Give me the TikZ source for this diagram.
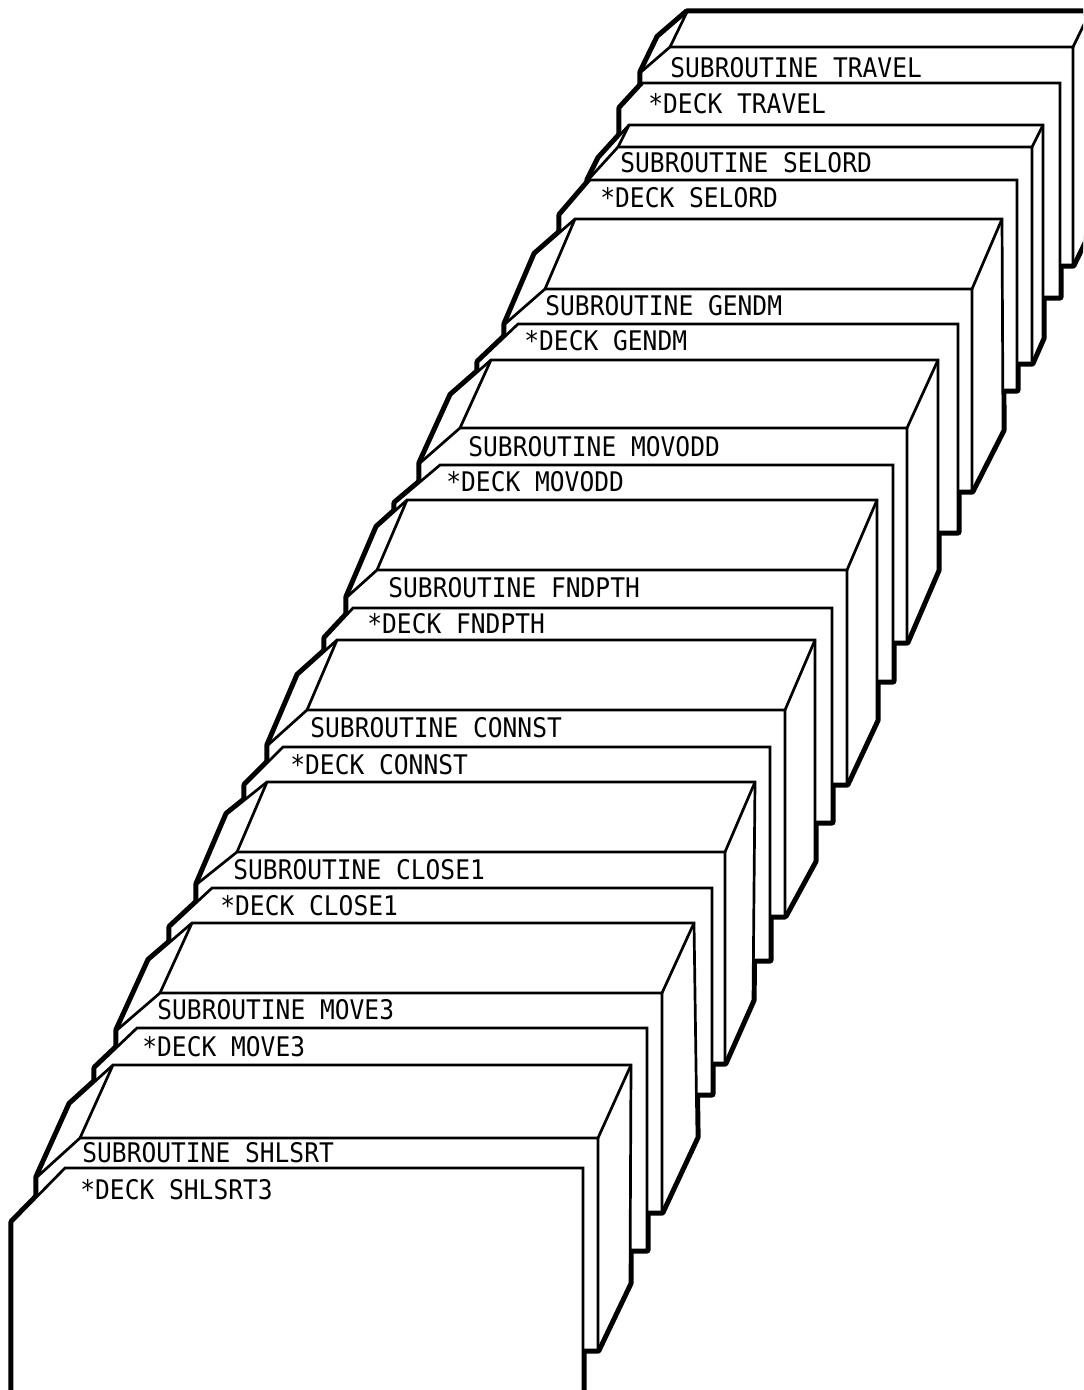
\documentclass[tikz,border=0pt]{standalone}
\usepackage{fontspec}
\newfontfamily\decfont[FakeStretch=0.91]{DejaVu Sans Mono}
\pgfkeys{/grp/.cd,
  T/.store in=\gT, Lt/.store in=\gLt, xl/.store in=\gxl, cb/.store in=\gcb,
  R/.store in=\gR, B/.store in=\gB, dx/.store in=\gdx, du/.store in=\gdu,
  dbx/.store in=\gdbx, dbu/.store in=\gdbu,
  Tc/.store in=\gTc, Lc/.store in=\gLc, xcl/.store in=\gxcl, ccb/.store in=\gccb,
  Rc/.store in=\gRc, Bc/.store in=\gBc}
\newcommand\setgrp[1]{\pgfkeys{/grp/.cd,#1}}
% block (deck) silhouette and card silhouette
\newcommand\blk[1]{\path[#1] (\gxl,\gB) -- (\gxl,\gcb) -- (\gxl+\gdx,\gcb-\gdu)
  -- (\gLt+\gdx,\gT-\gdu) -- (\gR+\gdx,\gT-\gdu) -- (\gR+\gdbx,\gB-\gdbu) -- (\gR,\gB) -- cycle;}
\newcommand\blkinner{\draw[inner] (\gxl,\gcb) -- (\gLt,\gT) -- (\gR,\gT) -- (\gR,\gB);
  \draw[inner] (\gLt,\gT) -- (\gLt+\gdx,\gT-\gdu);
  \draw[inner] (\gR,\gT) -- (\gR+\gdx,\gT-\gdu);}
\newcommand\crd[1]{\path[#1] (\gxcl,\gBc) -- (\gxcl,\gccb) -- (\gLc,\gTc) -- (\gRc,\gTc) -- (\gRc,\gBc) -- cycle;}
% groups, front (A) to back (I)
\newcommand\grpA{\setgrp{T=1138,Lt=80,xl=37,cb=1177,R=598,B=1350,dx=33,du=73,dbx=32,dbu=67,
  Tc=1168,Lc=65,xcl=12,ccb=1222,Rc=583,Bc=1398}}
\newcommand\grpB{\setgrp{T=993,Lt=160,xl=117,cb=1030,R=662,B=1212,dx=32,du=70,dbx=35,dbu=75,
  Tc=1028,Lc=137,xcl=95,ccb=1068,Rc=647,Bc=1250}}
\newcommand\grpC{\setgrp{T=852,Lt=237,xl=197,cb=884,R=725,B=1063,dx=30,du=70,dbx=28,dbu=63,
  Tc=888,Lc=212,xcl=170,ccb=927,Rc=712,Bc=1094}}
\newcommand\grpD{\setgrp{T=710,Lt=307,xl=268,cb=745,R=785,B=916,dx=30,du=70,dbx=30,dbu=55,
  Tc=747,Lc=283,xcl=245,ccb=785,Rc=770,Bc=960}}
\newcommand\grpE{\setgrp{T=570,Lt=377,xl=347,cb=597,R=847,B=784,dx=30,du=70,dbx=30,dbu=64,
  Tc=608,Lc=353,xcl=325,ccb=638,Rc=832,Bc=822}}
\newcommand\grpF{\setgrp{T=428,Lt=460,xl=420,cb=463,R=907,B=642,dx=31,du=68,dbx=31,dbu=72,
  Tc=465,Lc=440,xcl=395,ccb=503,Rc=893,Bc=681}}
\newcommand\grpG{\setgrp{T=289,Lt=545,xl=505,cb=324,R=972,B=491,dx=30,du=70,dbx=31,dbu=61,
  Tc=324,Lc=518,xcl=478,ccb=362,Rc=958,Bc=532}}
\newcommand\grpH{\setgrp{T=147,Lt=618,xl=588,cb=180,R=1032,B=363,dx=11,du=22,dbx=11,dbu=25,
  Tc=180,Lc=590,xcl=560,ccb=215,Rc=1017,Bc=390}}
\newcommand\grpI{\setgrp{T=47,Lt=670,xl=641,cb=72,R=1073,B=265,dx=17,du=35,dbx=17,dbu=35,
  Tc=83,Lc=643,xcl=620,ccb=108,Rc=1060,Bc=297}}
\begin{document}
\begin{tikzpicture}[x=0.5pt,y=-0.5pt,
  inner/.style={draw=black,line width=1.35pt},
  outline/.style={draw=black,line width=3.6pt,line join=round},
  lbl/.style={font=\decfont\fontsize{13.5}{16}\selectfont,inner sep=0pt,anchor=west}]
\useasboundingbox (0,0) rectangle (1083,1390);
\fill[white] (0,0) rectangle (1083,1390);
\clip (0,0) rectangle (1083,1390);
% pass 1: thick outer contour
\foreach \g in {\grpI,\grpH,\grpG,\grpF,\grpE,\grpD,\grpC,\grpB,\grpA}{\g\blk{outline}\crd{outline}}
% pass 2: white union
\foreach \g in {\grpI,\grpH,\grpG,\grpF,\grpE,\grpD,\grpC,\grpB,\grpA}{\g\blk{fill=white}\crd{fill=white}}
% pass 3: painter's order, thin edges
\foreach \g in {\grpI,\grpH,\grpG,\grpF,\grpE,\grpD,\grpC,\grpB,\grpA}{\g
  \blk{fill=white,inner}\blkinner\crd{fill=white,inner}}
% labels
\node[lbl] (sI) at (670,68)   {SUBROUTINE TRAVEL};
\node[lbl] (dI) at (648,104)  {*DECK TRAVEL};
\node[lbl] (sH) at (620,163)  {SUBROUTINE SELORD};
\node[lbl] (dH) at (600,198)  {*DECK SELORD};
\node[lbl] (sG) at (545,306)  {SUBROUTINE GENDM};
\node[lbl] (dG) at (524,341)  {*DECK GENDM};
\node[lbl] (sF) at (468,447)  {SUBROUTINE MOVODD};
\node[lbl] (dF) at (446,482)  {*DECK MOVODD};
\node[lbl] (sE) at (388,588)  {SUBROUTINE FNDPTH};
\node[lbl] (dE) at (367,624)  {*DECK FNDPTH};
\node[lbl] (sD) at (310,728)  {SUBROUTINE CONNST};
\node[lbl] (dD) at (290,765)  {*DECK CONNST};
\node[lbl] (sC) at (233,870)  {SUBROUTINE CLOSE1};
\node[lbl] (dC) at (220,906)  {*DECK CLOSE1};
\node[lbl] (sB) at (157,1010) {SUBROUTINE MOVE3};
\node[lbl] (dB) at (142,1047) {*DECK MOVE3};
\node[lbl] (sA) at (82,1153)  {SUBROUTINE SHLSRT};
\node[lbl] (dA) at (80,1190)  {*DECK SHLSRT3};
\end{tikzpicture}
\end{document}
